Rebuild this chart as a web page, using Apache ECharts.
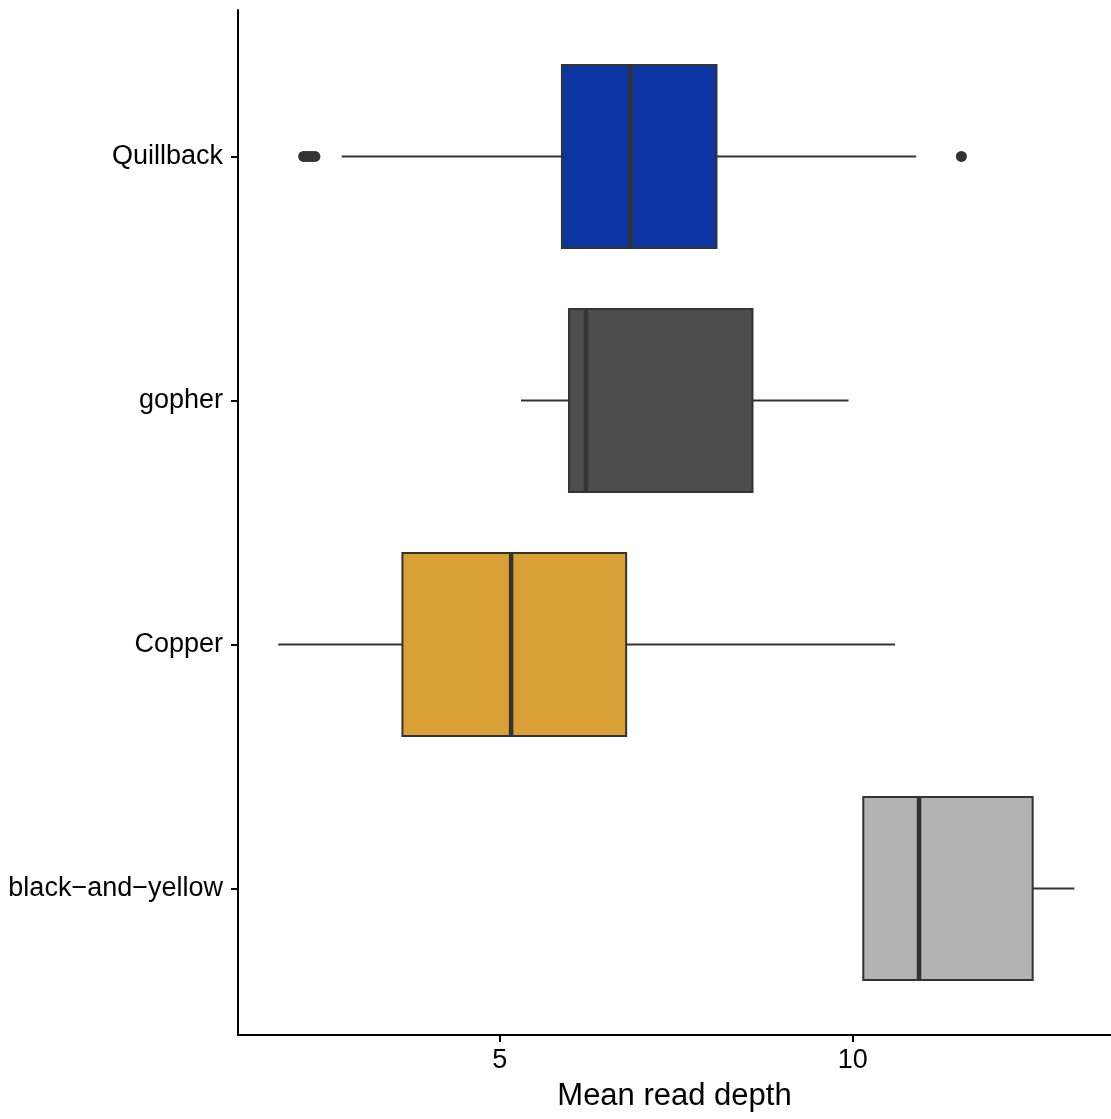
<!DOCTYPE html>
<html>
<head>
<meta charset="utf-8">
<title>Mean read depth by species</title>
<script src="https://cdn.jsdelivr.net/npm/echarts@6/dist/echarts.min.js"></script>
<style>
  html, body { margin: 0; padding: 0; background: #ffffff; overflow: hidden; }
  #chart { width: 1111px; height: 1119px; }
</style>
</head>
<body>
<div id="chart"></div>
<script>
// Species, bottom to top
const categories = ['black\u2212and\u2212yellow', 'Copper', 'gopher', 'Quillback'];

// Box summary per species (same order as categories)
const lowerWhisker = [10.15, 1.86, 5.30, 2.76];
const q1 = [10.15, 3.62, 5.98, 5.88];
const median = [10.94, 5.16, 6.22, 6.85];
const q3 = [12.55, 6.79, 8.58, 8.07];
const upperWhisker = [13.14, 10.60, 9.94, 10.90];

// Outlying points
const outlierCategory = [3, 3, 3, 3, 3, 3];
const outlierValues = [2.22, 2.26, 2.30, 2.34, 2.38, 11.54];

// Fill colour per species
const fillColors = ['#b3b3b3', '#d9a036', '#4d4d4d', '#0b35a0'];

// Axis ticks and limits
const xTicks = [5, 10];
const xMin = 1.29;
const xMax = 13.66;

const boxHalf = 0.375;
const edgeColor = '#333333';
const fontFamily = 'Liberation Sans, Arial, sans-serif';

const boxData = categories.map((c, i) => [i, lowerWhisker[i], q1[i], median[i], q3[i], upperWhisker[i]]);
const outlierData = outlierValues.map((v, i) => [v, outlierCategory[i]]);

function renderBox(params, api) {
  const cat = api.value(0);
  const lo = api.value(1), a = api.value(2), m = api.value(3), b = api.value(4), hi = api.value(5);
  const pLo = api.coord([lo, cat]);
  const pA = api.coord([a, cat]);
  const pB = api.coord([b, cat]);
  const pHi = api.coord([hi, cat]);
  const top = api.coord([a, cat + boxHalf])[1];
  const bottom = api.coord([a, cat - boxHalf])[1];
  const mx = api.coord([m, cat])[0];
  const lineStyle = { stroke: edgeColor, lineWidth: 2 };
  return {
    type: 'group',
    children: [
      { type: 'line', shape: { x1: pLo[0], y1: pLo[1], x2: pA[0], y2: pA[1] }, style: lineStyle },
      { type: 'line', shape: { x1: pB[0], y1: pB[1], x2: pHi[0], y2: pHi[1] }, style: lineStyle },
      {
        type: 'rect',
        shape: { x: pA[0], y: top, width: pB[0] - pA[0], height: bottom - top },
        style: { fill: fillColors[cat], stroke: edgeColor, lineWidth: 2 }
      },
      { type: 'line', shape: { x1: mx, y1: top, x2: mx, y2: bottom }, style: { stroke: edgeColor, lineWidth: 4.5 } }
    ]
  };
}

const chart = echarts.init(document.getElementById('chart'), null, { renderer: 'canvas', width: 1111, height: 1119 });

chart.setOption({
  animation: false,
  backgroundColor: '#ffffff',
  textStyle: { fontFamily: fontFamily },
  grid: { left: 238, right: 0, top: 10, bottom: 84, containLabel: false, outerBoundsMode: 'none' },
  xAxis: {
    type: 'value',
    min: xMin,
    max: xMax,
    name: 'Mean read depth',
    nameLocation: 'middle',
    nameGap: 46,
    nameTextStyle: { fontSize: 31, color: '#000000', fontFamily: fontFamily },
    axisLine: { show: true, onZero: false, lineStyle: { color: '#000000', width: 2 } },
    axisTick: { show: true, customValues: xTicks, length: 7, lineStyle: { color: '#000000', width: 2 } },
    axisLabel: {
      customValues: xTicks,
      fontSize: 27,
      color: '#000000',
      margin: 12,
      fontFamily: fontFamily
    },
    splitLine: { show: false }
  },
  yAxis: {
    type: 'value',
    min: -0.6,
    max: 3.6,
    axisLine: { show: true, onZero: false, lineStyle: { color: '#000000', width: 2 } },
    axisTick: { show: true, customValues: [0, 1, 2, 3], length: 7, lineStyle: { color: '#000000', width: 2 } },
    axisLabel: {
      customValues: [0, 1, 2, 3],
      formatter: v => categories[Math.round(v)],
      fontSize: 27,
      color: '#000000',
      margin: 15,
      fontFamily: fontFamily
    },
    splitLine: { show: false }
  },
  series: [
    {
      type: 'custom',
      renderItem: renderBox,
      data: boxData,
      encode: { x: [1, 2, 3, 4, 5], y: 0 },
      z: 2
    },
    {
      type: 'scatter',
      data: outlierData,
      symbol: 'circle',
      symbolSize: 11,
      itemStyle: { color: edgeColor, opacity: 1 },
      z: 3
    }
  ]
});
</script>
</body>
</html>
